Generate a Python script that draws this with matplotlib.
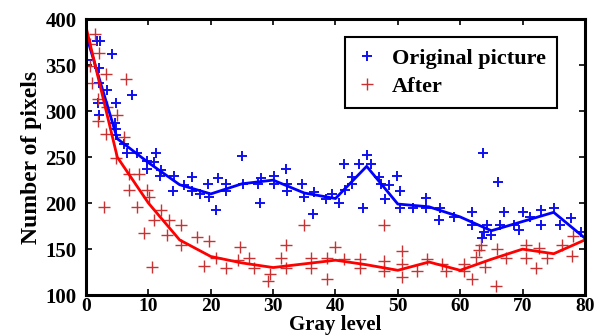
import matplotlib.pyplot as plt

plt.rcParams['font.family'] = ['Liberation Serif', 'DejaVu Serif']
plt.rcParams['font.weight'] = 'bold'

# Fitted curves (gray level vs number of pixels)
line_x = [0, 5, 10, 15, 20, 25, 30, 35, 40, 45, 50, 55, 60, 65, 70, 75, 80]
orig_line = [383, 270, 244, 220, 210, 221, 225, 211, 205, 240, 199, 196, 185, 170, 180, 190, 162]
after_line = [391, 250, 200, 160, 142, 135, 130, 134, 138, 133, 127, 136, 127, 139, 150, 145, 160]

# Scattered samples: original picture
orig_x = [1.8, 2.3, 4.1, 0.1, 2.1, 2.1, 3.4, 7.4, 1.9, 4.8, 2.1, 4.6, 4.8, 4.8, 6.1, 6.6,
          8.2, 11.2, 9.8, 10.9, 9.8, 12.0, 11.9, 14.1, 14.0, 15.7,
          17.0, 17.0, 18.3, 19.6, 19.7, 21.2, 22.4, 22.4, 20.9, 25.0, 25.1, 27.6, 28.1,
          27.9, 30.1, 30.1, 32.0, 32.3, 32.3,
          34.7, 34.9, 36.5, 36.4, 38.4, 39.5, 40.6, 41.4, 41.6, 42.7, 42.7, 43.8, 45.1,
          45.7, 47.0, 47.3, 44.4, 48.0,
          49.9, 48.6, 50.3, 50.3, 52.5, 54.5, 54.6, 56.7, 56.6, 59.0, 61.9, 61.9, 63.6,
          63.8, 63.5,
          66.0, 67.0, 64.3, 65.0, 66.4, 68.6, 69.4, 70.1, 71.2, 73.0, 73.0, 75.0, 76.0,
          77.8, 79.4]
orig_y = [376, 376, 362, 356, 347, 331, 323, 318, 309, 309, 296, 287, 281, 274, 264, 255,
          255, 255, 246, 245, 237, 236, 229, 230, 213, 220,
          228, 213, 210, 221, 207, 227, 221, 213, 193, 251, 221, 221, 227,
          200, 229, 221, 237, 213, 221,
          221, 207, 212, 188, 204, 210, 200, 242, 214, 228, 221, 242, 252,
          242, 228, 221, 195, 204,
          229, 220, 213, 195, 195, 206, 195, 195, 182, 185, 190, 176, 255,
          169, 162,
          223, 190, 176, 165, 176, 176, 171, 190, 185, 193, 176, 195, 176,
          184, 169]

# Scattered samples: after processing
after_x = [1.5, 0.6, 2.1, 0.6, 3.2, 6.4, 1.0, 1.9, 3.4, 4.9, 1.9, 3.2, 6.1, 4.8, 6.9, 8.5,
           6.9, 9.8, 10.1, 2.9, 8.2, 12.0, 10.9, 13.3, 15.2, 9.3, 13.0, 15.2, 10.6,
           17.8, 19.7, 18.9, 20.8, 22.4, 24.7, 24.4, 26.1, 26.9, 29.5, 29.1, 32.0, 31.3, 32.0,
           34.9, 36.0, 36.0, 38.7, 38.7, 40.0, 41.4, 44.0, 44.0, 47.8, 47.8, 47.8,
           50.7, 50.7, 50.7, 53.1, 54.7, 57.1, 57.7, 60.6, 60.6, 61.9, 62.6, 63.0, 63.4, 64.0,
           65.9, 67.4, 65.7, 70.5, 70.6, 72.2, 72.6, 74.0, 76.3, 77.9, 78.1]
after_y = [384, 373, 363, 349, 340, 335, 331, 313, 305, 296, 289, 275, 272, 249, 232, 232,
           214, 214, 207, 196, 196, 193, 182, 182, 176, 167, 165, 154, 131,
           163, 159, 132, 140, 130, 152, 138, 140, 129, 123, 115, 154, 140, 129,
           176, 140, 129, 140, 118, 152, 139, 139, 129, 176, 137, 126,
           148, 134, 120, 126, 139, 134, 126, 134, 126, 117, 141, 149, 155, 131,
           150, 140, 110, 155, 140, 129, 151, 140, 155, 143, 164]

fig = plt.figure(figsize=(5.98, 3.35), dpi=100)
ax = fig.add_axes([0.144, 0.119, 0.834, 0.824])

blue = '#1010ee'
red = '#c83232'

ax.plot(orig_x, orig_y, '+', color=blue, markersize=7, markeredgewidth=1.4,
        label='Original picture')
ax.plot(after_x, after_y, '+', color=red, markersize=8, markeredgewidth=1.0,
        label='After')
ax.plot(line_x, orig_line, color='#0000ff', linewidth=2)
ax.plot(line_x, after_line, color='#ff0000', linewidth=2)

ax.set_xlim(0, 80)
ax.set_ylim(100, 400)
ax.set_xticks(range(0, 81, 10))
ax.set_yticks(range(100, 401, 50))
ax.tick_params(direction='in', top=True, right=True, length=4, width=1.2)
ax.tick_params(axis='y', labelsize=15, pad=7)
ax.tick_params(axis='x', labelsize=14, pad=2)
for s in ax.spines.values():
    s.set_linewidth(2.2)

ax.set_xlabel('Gray level', fontsize=15, fontweight='bold', va='bottom')
ax.xaxis.set_label_coords(0.5, -0.145)
ax.set_ylabel('Number of pixels', fontsize=17, fontweight='bold', labelpad=2)

leg = ax.legend(loc='upper right', bbox_to_anchor=(0.944, 0.935), fontsize=16,
                fancybox=False, edgecolor='black', framealpha=1,
                handlelength=1.0, handletextpad=0.6, borderpad=0.5,
                labelspacing=0.35, borderaxespad=0)
leg.get_frame().set_linewidth(1.5)

fig.savefig('out.png', dpi=100)
